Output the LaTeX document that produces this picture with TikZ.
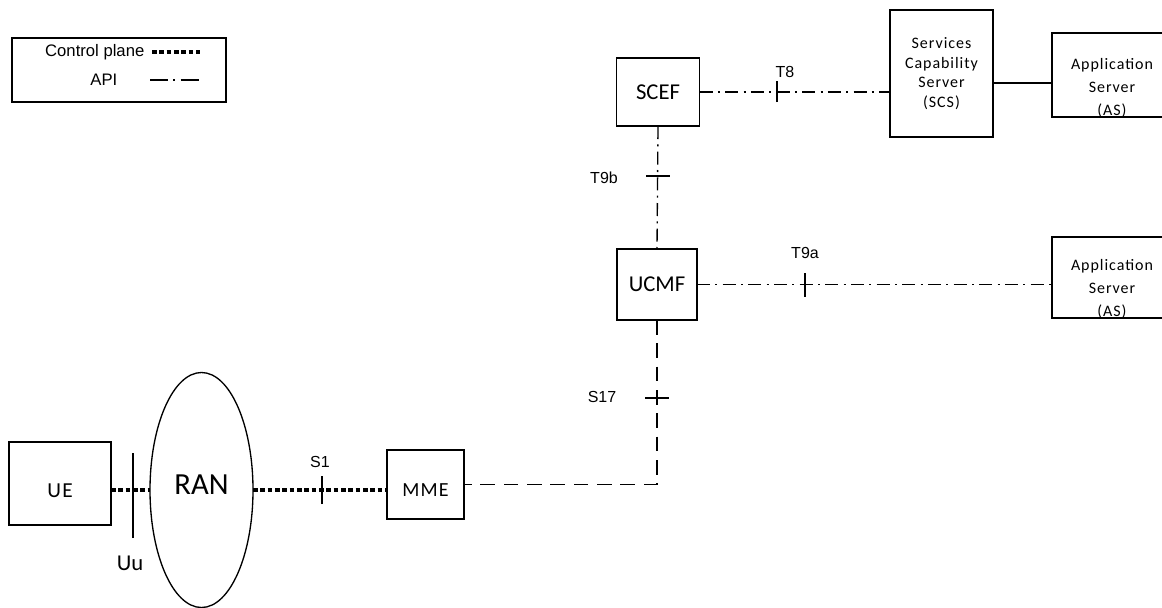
\documentclass[tikz,border=0pt]{standalone}
\usepackage{fontspec}
\setmainfont{Liberation Sans}
\newfontfamily\calfont{Carlito}
\newfontfamily\boxfont{Carlito}[LetterSpace=6]
\usetikzlibrary{shapes.geometric}

\begin{document}
\begin{tikzpicture}[x=0.75pt,y=-0.75pt,line width=1pt,
  box/.style={draw,rectangle,inner sep=0pt,outer sep=0pt,align=center},
  ctrl/.style={line width=2.5pt,dash pattern=on 3.5pt off 2pt},
  api/.style={dash pattern=on 9.75pt off 4pt on 1.5pt off 4pt},
  dashline/.style={dash pattern=on 11pt off 6.5pt},
  reflabel/.style={font=\fontsize{12}{14}\selectfont}]

\clip (0,0) rectangle (1162,607);

% ===================== Legend =====================
\node[box,minimum width=160.5pt,minimum height=48pt] (legend) at (119,70) {};
\node[anchor=east,inner sep=0pt,font=\fontsize{12.5}{14}\selectfont] (lgctrl) at (145,52) {Control plane};
\node[anchor=east,inner sep=0pt,font=\fontsize{12.5}{14}\selectfont] (lgapi) at (118,80) {API};
\coordinate (lgctrlA) at (152,52);
\coordinate (lgctrlB) at (200,52);
\coordinate (lgapiA) at (150,80);
\coordinate (lgapiB) at (200,80);
\draw[ctrl] (lgctrlA) -- (lgctrlB);
\draw[dash pattern=on 13.5pt off 4pt on 1.5pt off 4pt on 13.5pt off 10pt] (lgapiA) -- (lgapiB);

% ===================== Service side =====================
\node[box,minimum width=62.25pt,minimum height=51pt,font=\calfont\fontsize{17}{19}\selectfont] (scef) at (658,92) {SCEF};
\node[box,minimum width=77.25pt,minimum height=95.25pt,font=\boxfont\fontsize{12}{14.6}\selectfont] (scs) at (941.5,73.5)
  {Services\\Capability\\Server\\(SCS)};
\node[box,minimum width=90pt,minimum height=63pt] (as1) at (1112,75) {};
\node[align=center,inner sep=0pt,font=\boxfont\fontsize{12}{17}\selectfont] (as1txt) at (1112,88) {Application\\Server\\(AS)};

\draw[api] (scef.east) -- (scef.east -| scs.west);
\coordinate (t8) at (777,92);
\draw ([yshift=-7.5pt]t8) -- ([yshift=8pt]t8);
\node[reflabel] (lt8) at (785,72) {T8};
\draw ([yshift=-7pt]scs.east) -- ([yshift=-7pt]scs.east -| as1.west);

% ===================== UCMF =====================
\node[box,minimum width=60pt,minimum height=53.25pt,font=\calfont\fontsize{17}{19}\selectfont] (ucmf) at (657,284.5) {UCMF};
\node[box,minimum width=90pt,minimum height=60.75pt] (as2) at (1112,277.5) {};
\node[align=center,inner sep=0pt,font=\boxfont\fontsize{12}{17}\selectfont] (as2txt) at (1112,289) {Application\\Server\\(AS)};

\draw[api] (scef.south) -- (ucmf.north);
\coordinate (t9b) at (658,176);
\draw ([xshift=-9pt]t9b) -- ([xshift=9pt]t9b);
\node[reflabel] (lt9b) at (604,178) {T9b};

\draw[api] (ucmf.east) -- (ucmf.east -| as2.west);
\coordinate (t9a) at (805,284.5);
\draw ([yshift=-9pt]t9a) -- ([yshift=9pt]t9a);
\node[reflabel] (lt9a) at (805,253) {T9a};

% ===================== Access side =====================
\node[box,minimum width=57.75pt,minimum height=51.75pt,font=\boxfont\fontsize{15}{17}\selectfont] (mme) at (425.5,484.5) {\raisebox{-8.9pt}[0pt][0pt]{MME}};
\node[box,minimum width=76.5pt,minimum height=62.25pt,font=\boxfont\fontsize{16}{18}\selectfont] (ue) at (60,483.5) {\raisebox{-10.8pt}[0pt][0pt]{UE}};
\node[draw,ellipse,inner sep=0pt,outer sep=0pt,minimum width=77.25pt,minimum height=176.25pt,
  font=\calfont\fontsize{23}{26}\selectfont] (ran) at (201.5,490) {\raisebox{-3.6pt}[0pt][0pt]{RAN}};

\draw[dashline] (ucmf.south) |- (mme.east);
\coordinate (s17) at (657,398);
\draw ([xshift=-9pt]s17) -- ([xshift=9pt]s17);
\node[reflabel] (ls17) at (602,397) {S17};

\draw[ctrl] (ran.west -| ue.east) -- (ran.west);
\coordinate (uu) at (133,495.5);
\draw ([yshift=-32pt]uu) -- ([yshift=32pt]uu);
\node[font=\calfont\fontsize{17}{19}\selectfont] (luu) at (130,563) {Uu};

\draw[ctrl] (ran.east) -- (ran.east -| mme.west);
\coordinate (s1) at (322,490);
\draw ([yshift=-10.5pt]s1) -- ([yshift=10.5pt]s1);
\node[reflabel] (ls1) at (320,462) {S1};

\end{tikzpicture}
\end{document}
